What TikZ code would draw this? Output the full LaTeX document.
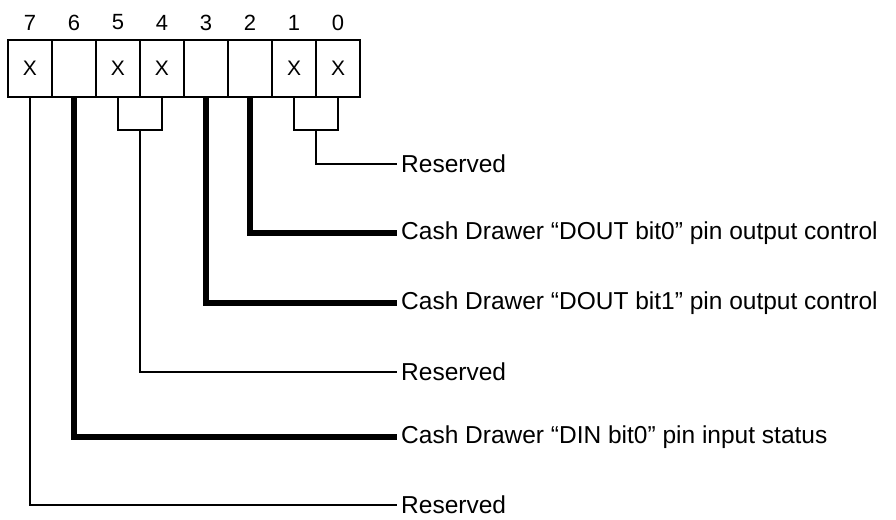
\documentclass[tikz,border=0pt]{standalone}
\usepackage{fontspec}
\setmainfont{Liberation Sans}
\begin{document}
\begin{tikzpicture}[x=1pt,y=-1pt,
  bitbox/.style={draw,line width=1.3pt,minimum width=44pt,minimum height=57pt,inner sep=0pt,font=\fontsize{21}{23}\selectfont},
  bitnum/.style={font=\fontsize{22}{24}\selectfont,inner sep=0pt},
  lbl/.style={anchor=west,inner sep=0pt,font=\fontsize{24.5}{26}\selectfont},
  thin/.style={line width=1.4pt},
  thinner/.style={line width=1.1pt},
  thick/.style={line width=6.5pt}]
\useasboundingbox (0,0) rectangle (896,519);
\foreach \b/\t [count=\k from 0] in {7/X,6/,5/X,4/X,3/,2/,1/X,0/X}{
  \node[bitbox] (b\b) at (30+44*\k,68.5) {\t};
  \node[bitnum] (n\b) at (30+44*\k,22.5) {\b};
}
\node[lbl] (l10) at (401,164) {Reserved};
\node[lbl] (l2) at (401,233) {Cash Drawer “DOUT bit0” pin output control};
\node[lbl] (l3) at (401,303) {Cash Drawer “DOUT bit1” pin output control};
\node[lbl] (l54) at (401,372) {Reserved};
\node[lbl] (l6) at (401,437) {Cash Drawer “DIN bit0” pin input status};
\node[lbl] (l7) at (401,505) {Reserved};
\coordinate (j54) at (140,130);
\coordinate (j10) at (316,130);
\draw[thinner] (b5.south) |- (j54) -| (b4.south);
\draw[thin] (b1.south) |- (j10) -| (b0.south);
\draw[thin] (j10) |- ([xshift=-4pt]l10.west);
\draw[thin] (j54) |- ([xshift=-4pt]l54.west);
\draw[thin] (b7.south) |- ([xshift=-4pt]l7.west);
\draw[thick] (b6.south) |- ([xshift=-4pt]l6.west);
\draw[thick] (b3.south) |- ([xshift=-4pt]l3.west);
\draw[thick] (b2.south) |- ([xshift=-4pt]l2.west);
\end{tikzpicture}
\end{document}
